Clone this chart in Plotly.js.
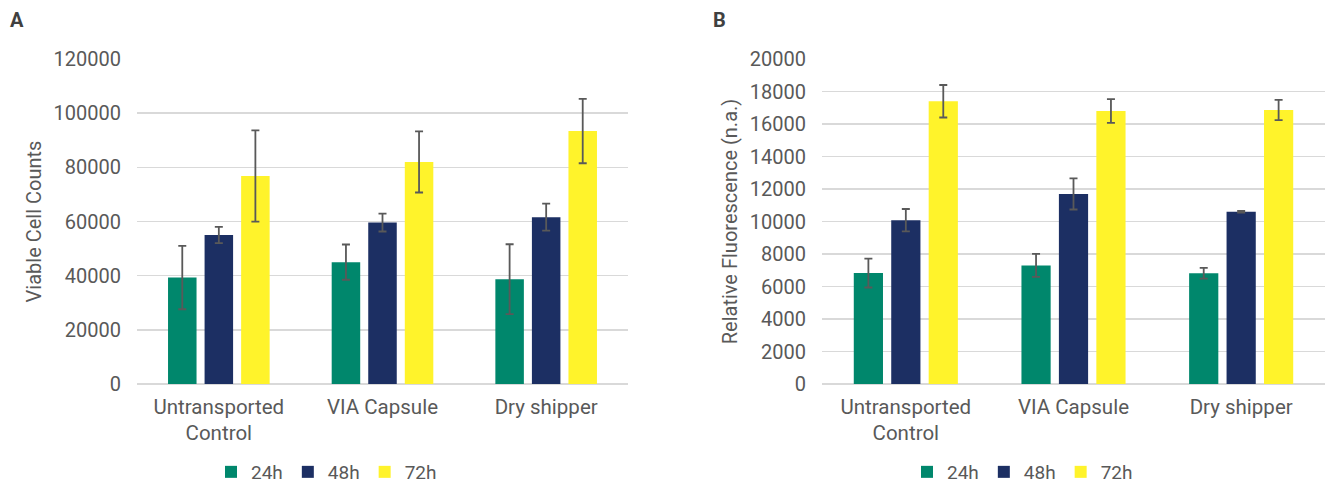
<!DOCTYPE html>
<html>
<head>
<meta charset="utf-8">
<script src="https://cdn.plot.ly/plotly-3.0.1.min.js"></script>
<style>
  html, body { margin: 0; padding: 0; background: #ffffff; }
  #chart { width: 1325px; height: 486px; }
</style>
</head>
<body>
<div id="chart"></div>
<script>
// ---- Data ----
const categories = ["Untransported<br>Control", "VIA Capsule", "Dry shipper"];
const seriesNames = ["24h", "48h", "72h"];

// Panel A: Viable Cell Counts
const cellCounts24h = [39300, 45000, 38700];
const cellCounts48h = [55000, 59600, 61600];
const cellCounts72h = [76800, 82000, 93400];
const cellErr24h = [11700, 6500, 12900];
const cellErr48h = [3000, 3300, 5000];
const cellErr72h = [16850, 11300, 11900];

// Panel B: Relative Fluorescence (n.a.)
const fluor24h = [6830, 7300, 6820];
const fluor48h = [10080, 11700, 10600];
const fluor72h = [17400, 16800, 16860];
const fluorErr24h = [890, 710, 330];
const fluorErr48h = [690, 960, 50];
const fluorErr72h = [1000, 730, 620];

const yTicksA = [0, 20000, 40000, 60000, 80000, 100000, 120000];
const yTicksB = [0, 2000, 4000, 6000, 8000, 10000, 12000, 14000, 16000, 18000, 20000];

// ---- Style ----
const colors = ["#00876C", "#1C2F63", "#FFF32B"];
const textColor = "#595959";
const gridColor = "#d9d9d9";
const FONT = "Roboto, 'Noto Sans', Arial, sans-serif";

function barTrace(name, y, err, color, xa, ya, legendId) {
  return {
    type: "bar",
    name: name,
    x: categories,
    y: y,
    xaxis: xa,
    yaxis: ya,
    legend: legendId,
    marker: { color: color, line: { width: 0 } },
    error_y: { type: "data", array: err, visible: true, color: "#595959", thickness: 1.8, width: 4 },
    hoverinfo: "none"
  };
}

const dataA = [cellCounts24h, cellCounts48h, cellCounts72h];
const errA = [cellErr24h, cellErr48h, cellErr72h];
const dataB = [fluor24h, fluor48h, fluor72h];
const errB = [fluorErr24h, fluorErr48h, fluorErr72h];

const traces = [];
for (let i = 0; i < 3; i++) traces.push(barTrace(seriesNames[i], dataA[i], errA[i], colors[i], "x", "y", "legend"));
for (let i = 0; i < 3; i++) traces.push(barTrace(seriesNames[i], dataB[i], errB[i], colors[i], "x2", "y2", "legend2"));

const W = 1325, H = 486;
const yDomain = [(H - 384) / H, (H - 59) / H];

function xAxis(domain, anchor) {
  return {
    domain: domain,
    anchor: anchor,
    automargin: false,
    showgrid: false,
    zeroline: false,
    showline: false,
    ticks: "",
    tickfont: { family: FONT, size: 20.5, color: textColor },
    ticklabelstandoff: 8,
    fixedrange: true
  };
}
function yAxis(domain, anchor, range, ticks, title) {
  return {
    domain: domain,
    anchor: anchor,
    automargin: false,
    range: range,
    tickvals: ticks,
    ticktext: ticks.map(String),
    showgrid: true,
    gridcolor: gridColor,
    gridwidth: 1.5,
    zeroline: true,
    zerolinecolor: gridColor,
    zerolinewidth: 1.5,
    showline: false,
    ticks: "",
    tickfont: { family: FONT, size: 20, color: textColor },
    ticklabelstandoff: 15,
    title: { text: title, font: { family: FONT, size: 20, color: textColor }, standoff: 6 },
    fixedrange: true
  };
}

const legendBase = {
  orientation: "h",
  xanchor: "left",
  y: (H - 472) / H, yanchor: "middle",
  font: { family: FONT, size: 19, color: textColor },
  bgcolor: "rgba(0,0,0,0)",
  itemclick: false, itemdoubleclick: false
};

const layout = {
  width: W,
  height: H,
  margin: { l: 0, r: 0, t: 0, b: 0, autoexpand: false },
  paper_bgcolor: "#ffffff",
  plot_bgcolor: "#ffffff",
  barmode: "group",
  bargap: 0.33,
  bargroupgap: 0.22,
  font: { family: FONT, color: textColor },
  xaxis: xAxis([137 / W, 628 / W], "y"),
  yaxis: yAxis(yDomain, "x", [0, 120000], yTicksA, "Viable Cell Counts"),
  xaxis2: xAxis([822 / W, 1], "y2"),
  yaxis2: yAxis(yDomain, "x2", [0, 20000], yTicksB, "Relative Fluorescence (n.a.)"),
  legend: Object.assign({}, legendBase, { x: 211 / W }),
  legend2: Object.assign({}, legendBase, { x: 907 / W }),
  annotations: [
    { text: "<b>A</b>", xref: "paper", yref: "paper", x: 8 / W, y: 1 - 6 / H, xanchor: "left", yanchor: "top",
      showarrow: false, font: { family: FONT, size: 20, color: "#404040" } },
    { text: "<b>B</b>", xref: "paper", yref: "paper", x: 711 / W, y: 1 - 6 / H, xanchor: "left", yanchor: "top",
      showarrow: false, font: { family: FONT, size: 20, color: "#404040" } }
  ],
  showlegend: true
};

Plotly.newPlot("chart", traces, layout, { displayModeBar: false, staticPlot: true });
</script>
</body>
</html>
